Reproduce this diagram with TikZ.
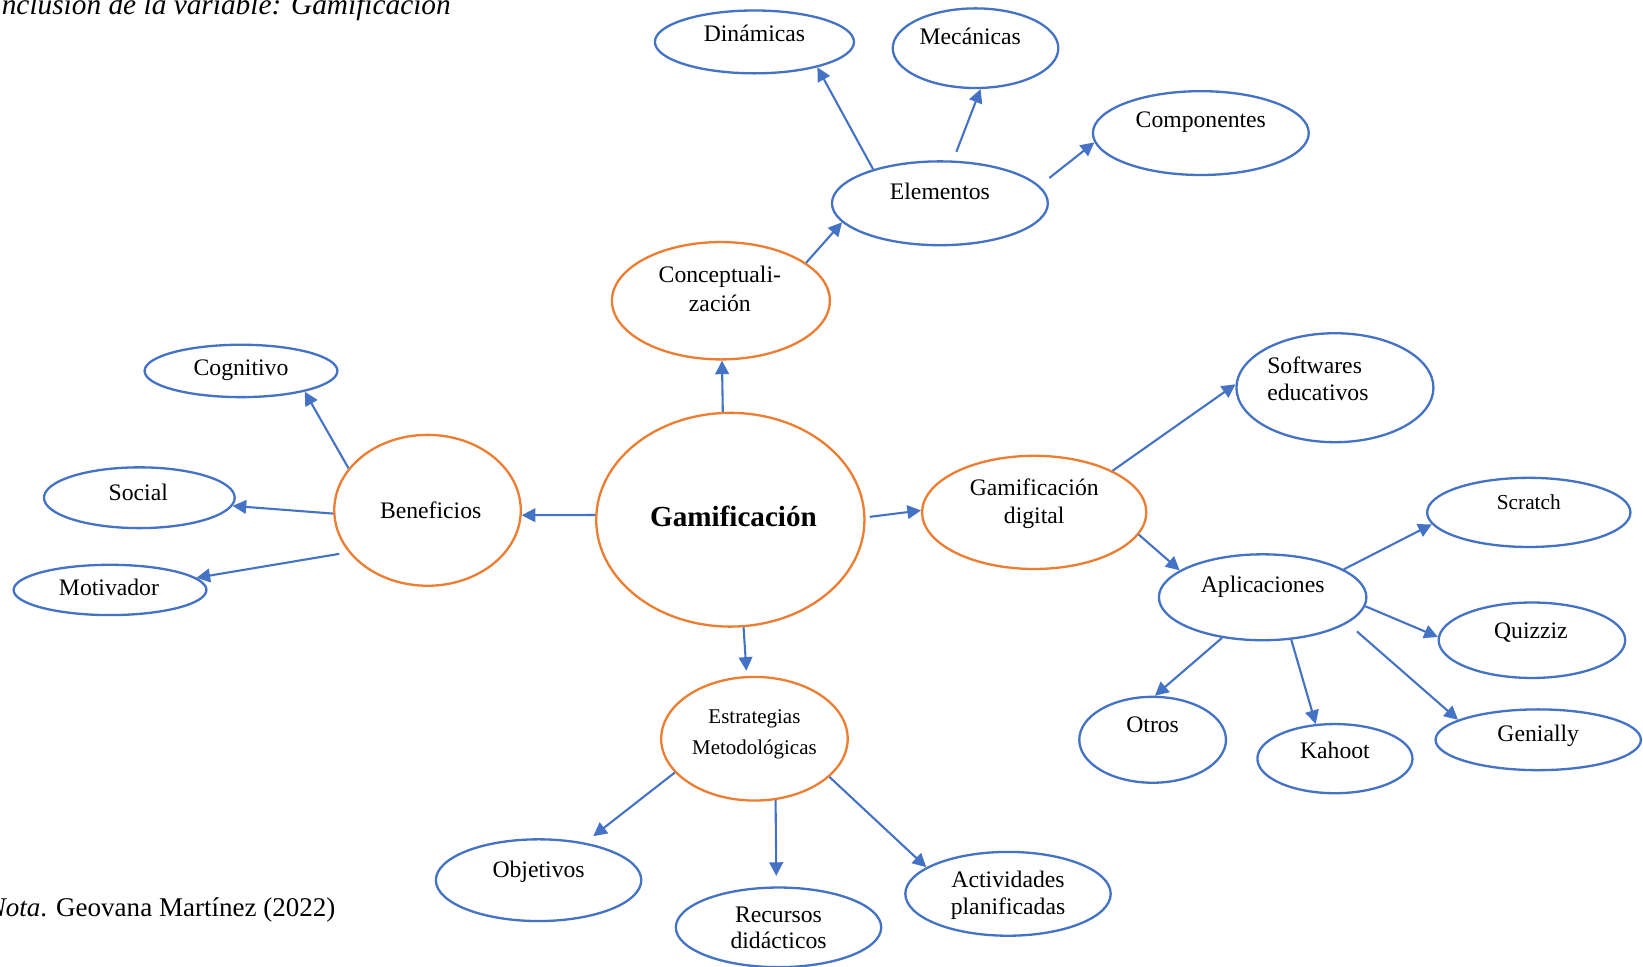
\documentclass[tikz,border=0pt]{standalone}
\usepackage{fontspec}
\setmainfont{Liberation Serif}
\usetikzlibrary{shapes.geometric,arrows.meta}
\definecolor{linkblue}{HTML}{4472C4}
\definecolor{hubor}{HTML}{ED7D31}
% two centred lines, baseline on the first one
\newcommand\stacked[2]{\begin{tabular}[t]{@{}c@{}}#1\\#2\end{tabular}}

\begin{document}
\begin{tikzpicture}[x=0.5pt,y=-0.5pt,
  bub/.style={ellipse, draw=linkblue, line width=1.1pt, inner sep=0pt},
  hub/.style={ellipse, draw=hubor, line width=1.1pt, inner sep=0pt},
  lbl/.style={anchor=base, inner sep=0pt, font=\fontsize{11.3}{14}\selectfont},
  link/.style={draw=linkblue, line width=1pt, -{Triangle[length=6.5pt,width=6.5pt]}}]

\useasboundingbox (0,0) rectangle (1568,922);
\fill[white] (0,0) rectangle (1568,922);
\clip (0,0) rectangle (1568,922);

% caption and source
\node[anchor=base west, inner sep=0pt, font=\fontsize{14}{16}\selectfont\itshape] (title) at (-8,14) {Inclusión de la variable: Gamificación};
\node[anchor=base west, inner sep=0pt, font=\fontsize{12.9}{15}\selectfont] (nota) at (-12,875) {\textit{Nota}. Geovana Martínez (2022)};

% ellipses
\node[hub, minimum width=128pt, minimum height=102pt] (gam)  at (697,496) {};
\node[hub, minimum width=104pt, minimum height=56pt]  (conc) at (688,287) {};
\node[hub, minimum width=89pt,  minimum height=72pt]  (ben)  at (408,487) {};
\node[hub, minimum width=107pt, minimum height=54pt]  (gdig) at (987,489) {};
\node[hub, minimum width=89pt,  minimum height=59pt]  (est)  at (720,705) {};

\node[bub, minimum width=95pt,  minimum height=30pt] (din)  at (720,40) {};
\node[bub, minimum width=79pt,  minimum height=38pt] (mec)  at (931,46) {};
\node[bub, minimum width=103pt, minimum height=40pt] (comp) at (1146,127) {};
\node[bub, minimum width=103pt, minimum height=40pt] (elem) at (897,194) {};
\node[bub, minimum width=92pt,  minimum height=25pt] (cog)  at (230,354) {};
\node[bub, minimum width=91pt,  minimum height=29pt] (soc)  at (133,475) {};
\node[bub, minimum width=92pt,  minimum height=24pt] (mot)  at (105,563) {};
\node[bub, minimum width=94pt,  minimum height=52pt] (soft) at (1274,370) {};
\node[bub, minimum width=99pt,  minimum height=41pt] (apl)  at (1205,570) {};
\node[bub, minimum width=97pt,  minimum height=33pt] (scr)  at (1459,489) {};
\node[bub, minimum width=89pt,  minimum height=36pt] (quiz) at (1462,611) {};
\node[bub, minimum width=98pt,  minimum height=29pt] (gen)  at (1468,706) {};
\node[bub, minimum width=70pt,  minimum height=41pt] (otr)  at (1100,706) {};
\node[bub, minimum width=74pt,  minimum height=33pt] (kah)  at (1274,724) {};
\node[bub, minimum width=98pt,  minimum height=39pt] (obj)  at (514,840) {};
\node[bub, minimum width=98pt,  minimum height=38pt] (rec)  at (743,885) {};
\node[bub, minimum width=98pt,  minimum height=40pt] (act)  at (962,853) {};

% texts
\node[lbl, font=\fontsize{13.9}{16}\selectfont\bfseries] (gamT) at (700,502) {Gamificación};
\node[lbl, font=\fontsize{11.3}{13.85}\selectfont] (concT) at (687,270) {\stacked{Conceptuali-}{zación}};
\node[lbl] (benT)  at (411,495) {Beneficios};
\node[lbl, font=\fontsize{11.3}{13.5}\selectfont] (gdigT) at (987,473) {\stacked{Gamificación}{digital}};
\node[lbl, font=\fontsize{10}{15.2}\selectfont] (estT) at (720,690) {\stacked{Estrategias}{Metodológicas}};

\node[lbl] (dinT)  at (720,40)  {Dinámicas};
\node[lbl] (mecT)  at (926,42)  {Mecánicas};
\node[lbl] (compT) at (1146,122) {Componentes};
\node[lbl] (elemT) at (897,190) {Elementos};
\node[lbl] (cogT)  at (230,358) {Cognitivo};
\node[lbl] (socT)  at (132,478) {Social};
\node[lbl] (motT)  at (104,568) {Motivador};
\node[lbl, anchor=base west, font=\fontsize{11.3}{13}\selectfont] (softT) at (1209,356)
  {\begin{tabular}[t]{@{}l@{}}Softwares\\educativos\end{tabular}};
\node[lbl] (aplT)  at (1205,565) {Aplicaciones};
\node[lbl, font=\fontsize{10.2}{12}\selectfont] (scrT) at (1459,486) {Scratch};
\node[lbl] (quizT) at (1461,609) {Quizziz};
\node[lbl] (genT)  at (1468,708) {Genially};
\node[lbl] (otrT)  at (1100,699) {Otros};
\node[lbl] (kahT)  at (1274,724) {Kahoot};
\node[lbl] (objT)  at (514,837) {Objetivos};
\node[lbl, font=\fontsize{11.3}{12.7}\selectfont] (recT) at (743,880) {\stacked{Recursos}{didácticos}};
\node[lbl, font=\fontsize{11.3}{13}\selectfont] (actT) at (962,847) {\stacked{Actividades}{planificadas}};

% connectors
\draw[link] (gam.94.8) -- (conc.-89);
\draw[link] (conc.24) -- (elem.191);
\draw[link] (elem.153) -- (din.-22);
\draw[link, shorten <=4.5pt] (elem.73) -- (mec.-83);
\draw[link, shorten <=6pt] (elem.10) -- (comp.185.4);

\draw[link] (gam.178.7) -- (ben.-3.8);
\draw[link] (ben.152.8) -- (cog.-18.4);
\draw[link] (ben.182.5) -- (soc.-5.3);
\draw[link, shorten <=4.5pt] (ben.208) -- (mot.8.3);

\draw[link, shorten <=2pt] (gam.1.3) -- (gdig.179.4);
\draw[link] (gdig.28.1) -- (soft.178.2);
\draw[link] (gdig.-12.5) -- (apl.162.2);
\draw[link] (apl.19.8) -- (scr.187.6);
\draw[link] (apl.-5.1) -- (quiz.178.7);
\draw[link, shorten <=6pt] (apl.-17.9) -- (gen.166);
\draw[link] (apl.-56.6) -- (kah.119.5);
\draw[link] (apl.225.7) -- (otr.87.3);

\draw[link, shorten >=2.5pt] (gam.-83.8) -- (est.97.1);
\draw[link, shorten >=5pt] (est.203.8) -- (obj.39.7);
\draw[link, shorten >=5pt] (est.-71.6) -- (rec.93.5);
\draw[link] (est.-27.5) -- (act.162);
\end{tikzpicture}
\end{document}
